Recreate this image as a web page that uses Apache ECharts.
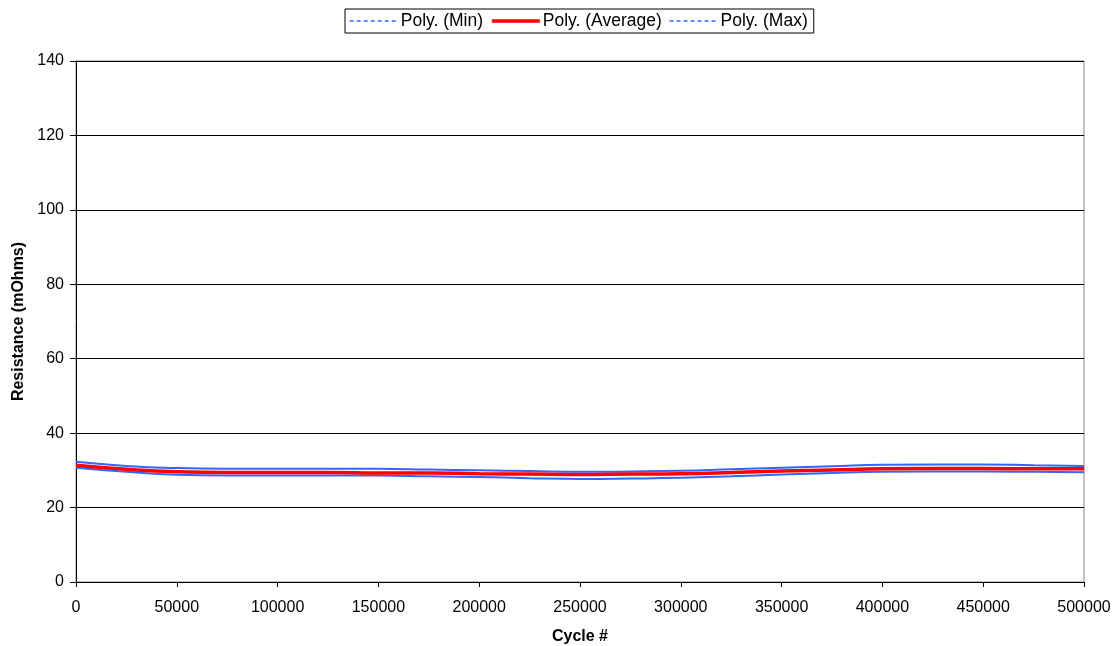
<!DOCTYPE html>
<html><head><meta charset="utf-8">
<script src="https://cdn.jsdelivr.net/npm/echarts@6/dist/echarts.min.js"></script>
<style>html,body{margin:0;padding:0;background:#fff}#c{width:1117px;height:646px}</style>
</head><body><div id="c"></div>
<script>
const cycles = [0,25000,50000,75000,100000,125000,150000,175000,200000,225000,250000,275000,300000,325000,350000,375000,400000,425000,450000,475000,500000];
const polyMin = [30.7,29.6,28.8,28.6,28.6,28.6,28.6,28.4,28.2,27.9,27.7,27.8,28.0,28.4,28.9,29.3,29.6,29.7,29.7,29.6,29.5];
const polyAvg = [31.4,30.3,29.6,29.4,29.4,29.4,29.3,29.3,29.1,29.0,28.9,29.0,29.1,29.4,29.8,30.1,30.4,30.5,30.5,30.4,30.4];
const polyMax = [32.3,31.2,30.6,30.4,30.4,30.4,30.4,30.2,30.0,29.8,29.6,29.7,29.9,30.3,30.7,31.1,31.5,31.6,31.6,31.4,31.2];
const names = ['Poly. (Min)','Poly. (Average)','Poly. (Max)'];

const pair = arr => cycles.map((c,i)=>[c,arr[i]]);
const font = 'Liberation Sans, Arial, sans-serif';
const chart = echarts.init(document.getElementById('c'));
chart.setOption({
  animation:false,
  textStyle:{fontFamily:font,color:'#000'},
  legend:{
    top:9,left:345,
    borderColor:'#000',borderWidth:1,padding:[3,6,3,4],
    itemGap:7,itemWidth:48,itemHeight:16,
    textStyle:{fontFamily:font,fontSize:17.5,color:'#000',padding:[0,0,0,-2]},
    data:[
      {name:names[0],itemStyle:{opacity:0},lineStyle:{type:[4,3],width:1.5,color:'#3366ff'}},
      {name:names[1],itemStyle:{opacity:0},lineStyle:{width:3.5,color:'#ff0000'}},
      {name:names[2],itemStyle:{opacity:0},lineStyle:{type:[4,3],width:1.5,color:'#3366ff'}}
    ]
  },
  grid:{left:76,right:33,top:61,bottom:64,show:true,borderColor:'#888',borderWidth:1,
        containLabel:false,outerBoundsMode:'none'},
  xAxis:{
    type:'value',min:0,max:500000,interval:50000,
    name:'Cycle #',nameLocation:'middle',nameGap:47,
    nameTextStyle:{fontFamily:font,fontSize:16,fontWeight:'bold',color:'#000'},
    axisLine:{show:true,lineStyle:{color:'#000',width:1}},
    axisTick:{show:true,length:5,lineStyle:{color:'#000'}},
    axisLabel:{fontFamily:font,fontSize:16,color:'#000',margin:18,formatter:v=>String(v)},
    splitLine:{show:false}
  },
  yAxis:{
    type:'value',min:0,max:140,interval:20,
    name:'Resistance (mOhms)',nameLocation:'middle',nameGap:49,
    nameTextStyle:{fontFamily:font,fontSize:16,fontWeight:'bold',color:'#000'},
    axisLine:{show:true,lineStyle:{color:'#000',width:1}},
    axisTick:{show:true,length:6,lineStyle:{color:'#000'}},
    axisLabel:{fontFamily:font,fontSize:16,color:'#000',margin:12,formatter:v=>String(v)},
    splitLine:{show:true,lineStyle:{color:'#000',width:1}}
  },
  series:[
    {name:names[0],type:'line',data:pair(polyMin),smooth:true,showSymbol:false,symbol:'none',
     lineStyle:{color:'#3366ff',width:2},itemStyle:{color:'#3366ff'},z:2},
    {name:names[2],type:'line',data:pair(polyMax),smooth:true,showSymbol:false,symbol:'none',
     lineStyle:{color:'#3366ff',width:2},itemStyle:{color:'#3366ff'},z:2},
    {name:names[1],type:'line',data:pair(polyAvg),smooth:true,showSymbol:false,symbol:'none',
     lineStyle:{color:'#ff0000',width:3.5},itemStyle:{color:'#ff0000'},z:3}
  ]
});
</script></body></html>
